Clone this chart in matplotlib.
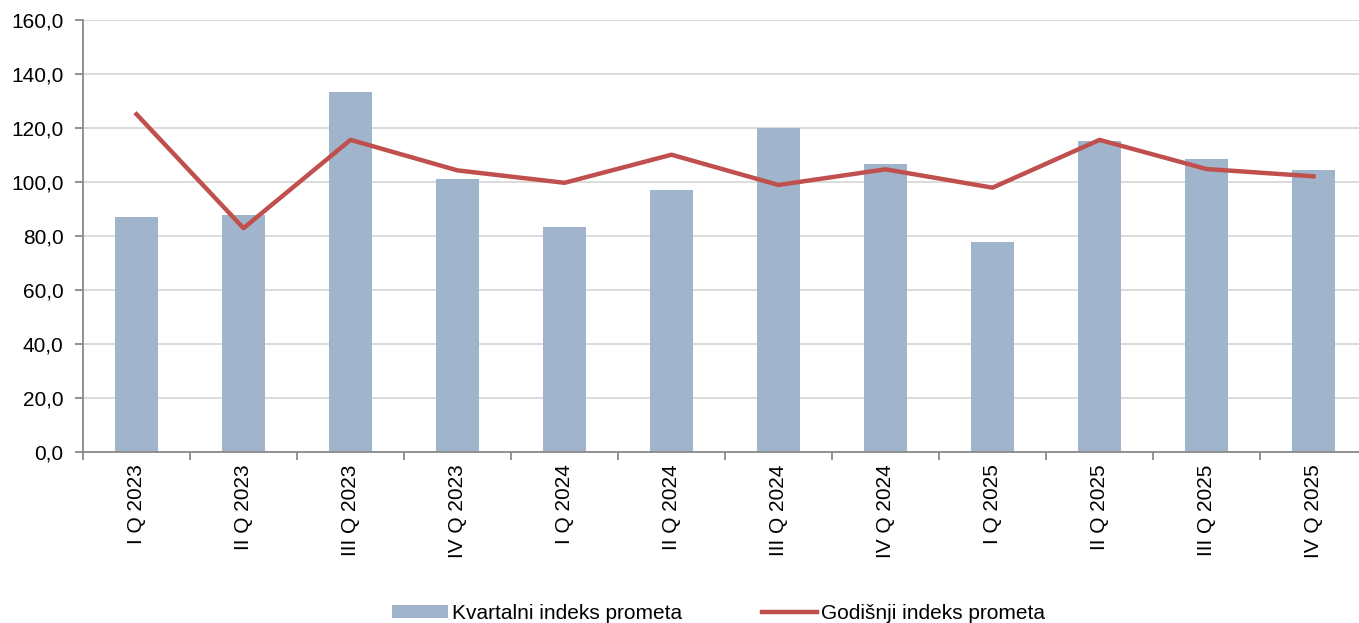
import numpy as np
import matplotlib.pyplot as plt

plt.rcParams['font.family'] = ['Liberation Sans', 'DejaVu Sans']

quarters = ['I Q 2023', 'II Q 2023', 'III Q 2023', 'IV Q 2023',
            'I Q 2024', 'II Q 2024', 'III Q 2024', 'IV Q 2024',
            'I Q 2025', 'II Q 2025', 'III Q 2025', 'IV Q 2025']
kvartalni = [86.9, 87.7, 133.2, 101.2, 83.2, 97.0, 120.0, 106.8, 77.8, 115.1, 108.6, 104.3]
godisnji = [125.1, 82.9, 115.6, 104.3, 99.7, 110.1, 98.9, 104.7, 97.9, 115.6, 104.8, 102.1]
yticks = np.arange(0, 161, 20)

fig = plt.figure(figsize=(13.59, 6.23), dpi=100)
ax = fig.add_axes([83 / 1359, 171 / 623, 1284 / 1359, 432 / 623])

x = np.arange(len(quarters))
bars = ax.bar(x, kvartalni, width=0.4, color='#a0b4cb', zorder=2)
line, = ax.plot(x, godisnji, color='#c0504d', linewidth=3.2, zorder=3)

ax.set_xlim(-0.5, len(quarters) - 0.5)
ax.set_ylim(0, 160)
ax.set_yticks(yticks)
ax.set_yticklabels([f'{v:.1f}'.replace('.', ',') for v in yticks], fontsize=15)
ax.set_xticks(x)
ax.set_xticklabels(quarters, rotation=90, fontsize=15)
ax.set_xticks(np.arange(-0.5, len(quarters), 1), minor=True)
ax.tick_params(axis='x', which='major', length=0, pad=9)
ax.tick_params(axis='x', which='minor', length=6, color='#898989', width=1.3)
ax.tick_params(axis='y', length=6, color='#898989', width=1.3, pad=8)

ax.grid(axis='y', color='#d9d9d9', linewidth=1.3, zorder=0)
ax.set_axisbelow(True)
for s in ['top', 'right']:
    ax.spines[s].set_visible(False)
for s in ['left', 'bottom']:
    ax.spines[s].set_color('#898989')
    ax.spines[s].set_linewidth(1.3)

fig.legend([bars, line], ['Kvartalni indeks prometa', 'Godišnji indeks prometa'],
           loc='lower center', bbox_to_anchor=(0.529, -0.03), ncol=2,
           frameon=False, fontsize=15, handlelength=2.65, handleheight=0.6,
           handletextpad=0.2, columnspacing=3.85)

fig.savefig('out.png', dpi=100)
